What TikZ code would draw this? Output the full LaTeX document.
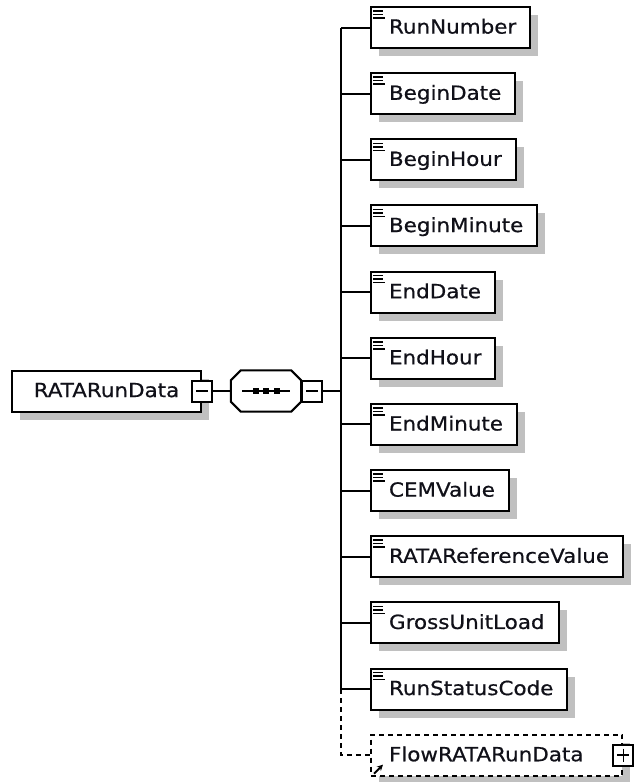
\documentclass[tikz,border=0pt]{standalone}
\usepackage{fontspec}
\newfontfamily\xf[FakeStretch=1.1,FakeBold=0.6]{DejaVu Sans}
\usetikzlibrary{shadows,arrows.meta}
\definecolor{shadowgray}{HTML}{C0C0C0}
\definecolor{txt}{HTML}{101018}
\begin{document}
\begin{tikzpicture}[x=1pt,y=-1pt,
  shad/.style={drop shadow={shadow xshift=8pt,shadow yshift=-8pt,fill=shadowgray,opacity=1,draw=none}},
  box/.style={draw,line width=2pt,fill=white,shad,minimum height=41pt,inner xsep=0pt,inner ysep=0pt,
    text height=14.2pt,text depth=2pt,text=txt,font=\xf\fontsize{19.5}{20}\selectfont},
  elem/.style={box,anchor=west,execute at begin node=\hspace*{18pt},execute at end node=\hspace*{14pt}},
  ref/.style={elem,dashed,dash pattern=on 5pt off 4pt,execute at end node=\hspace*{25pt}},
  conn/.style={line width=2pt},
  dconn/.style={line width=2pt,dash pattern=on 5pt off 4pt},
  pm/.style={draw,fill=white,line width=2pt,minimum width=20pt,minimum height=21pt,inner sep=0pt},
  minus/.style={pm,path picture={\draw[line width=1.8pt] ([xshift=4pt]path picture bounding box.west) -- ([xshift=-4pt]path picture bounding box.east);}},
  plus/.style={pm,path picture={\draw[line width=1.8pt] ([xshift=4pt]path picture bounding box.west) -- ([xshift=-4pt]path picture bounding box.east);
      \draw[line width=1.8pt] ([yshift=-4pt]path picture bounding box.north) -- ([yshift=4pt]path picture bounding box.south);}},
  sq/.style={fill=black,minimum size=6pt,inner sep=0pt}
]
\fill[white] (0,0) rectangle (636,782);
\useasboundingbox (0,0) rectangle (636,782);

% root
\node[box,minimum width=189pt] (root) at (106.5,391) {RATARunData};
\node[minus] (rmin) at (root.east) {};

% sequence compositor
\node[minimum width=70pt,minimum height=41pt,inner sep=0pt] (seq) at (266,391) {};
\fill[shadowgray,xshift=8pt,yshift=-8pt] ([xshift=10pt]seq.north west) -- ([xshift=-10pt]seq.north east) -- ([yshift=-10pt]seq.north east) -- ([yshift=10pt]seq.south east) -- ([xshift=-10pt]seq.south east) -- ([xshift=10pt]seq.south west) -- ([yshift=10pt]seq.south west) -- ([yshift=-10pt]seq.north west) -- cycle;
\draw[line width=2pt,fill=white] ([xshift=10pt]seq.north west) -- ([xshift=-10pt]seq.north east) -- ([yshift=-10pt]seq.north east) -- ([yshift=10pt]seq.south east) -- ([xshift=-10pt]seq.south east) -- ([xshift=10pt]seq.south west) -- ([yshift=10pt]seq.south west) -- ([yshift=-10pt]seq.north west) -- cycle;
\coordinate (dl) at (242,391);
\coordinate (dr) at (290,391);
\draw[line width=2pt] (dl) -- (dr);
\node[sq] (d1) at (255.5,391) {};
\node[sq] (d2) at (266,391) {};
\node[sq] (d3) at (276.5,391) {};
\node[minus,anchor=west] (smin) at (seq.east) {};

\draw[conn] (rmin.east) -- (seq.west);

% children
\node[elem] (c1) at (370,27.5) {RunNumber};
\node[elem] (c2) at (370,93.65) {BeginDate};
\node[elem] (c3) at (370,159.8) {BeginHour};
\node[elem] (c4) at (370,225.95) {BeginMinute};
\node[elem] (c5) at (370,292.1) {EndDate};
\node[elem] (c6) at (370,358.25) {EndHour};
\node[elem] (c7) at (370,424.4) {EndMinute};
\node[elem] (c8) at (370,490.55) {CEMValue};
\node[elem] (c9) at (370,556.7) {RATAReferenceValue};
\node[elem] (c10) at (370,622.85) {GrossUnitLoad};
\node[elem] (c11) at (370,689) {RunStatusCode};
\node[ref] (c12) at (370,755.15) {FlowRATARunData};
\node[plus] (fplus) at (c12.east) {};

% element icons
\foreach \n in {c1,c2,c3,c4,c5,c6,c7,c8,c9,c10,c11}{
  \draw[line width=1.5pt] ([xshift=3pt,yshift=-5pt]\n.north west) -- ++(10pt,0pt);
  \draw[line width=1.5pt] ([xshift=3pt,yshift=-8.5pt]\n.north west) -- ++(10pt,0pt);
  \draw[line width=1.5pt] ([xshift=3pt,yshift=-12pt]\n.north west) -- ++(12pt,0pt);
}
% reference arrow
\draw[line width=2pt,-{Stealth[length=6pt,width=6pt]}] ([xshift=4pt,yshift=3pt]c12.south west) -- ([xshift=13pt,yshift=12pt]c12.south west);

% spine
\coordinate (sp) at (341,391);
\draw[conn] (smin.east) -- (sp);
\draw[conn] (c1.west -| sp) -- (c11.west -| sp);
\foreach \n in {c1,c2,c3,c4,c5,c6,c7,c8,c9,c10,c11}{
  \draw[conn] (\n.west -| sp) -- (\n.west);
}
\draw[dconn] (c11.west -| sp) |- (c12.west);
\end{tikzpicture}
\end{document}
